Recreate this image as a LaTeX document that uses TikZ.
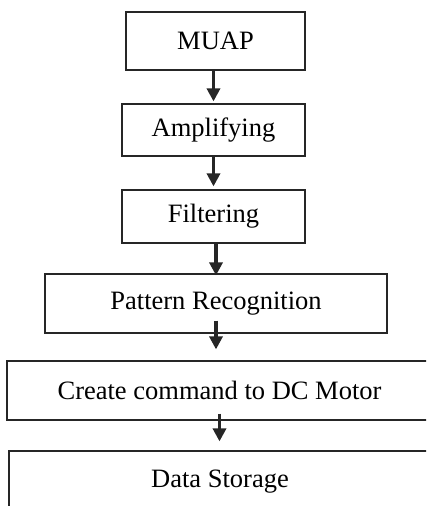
\documentclass[tikz,border=0pt]{standalone}
\usepackage{fontspec}
\setmainfont{Liberation Serif}
\usetikzlibrary{arrows.meta}

\begin{document}
\begin{tikzpicture}[x=1pt,y=-1pt,
  blk/.style={draw=black!85,line width=1.2pt,inner sep=0pt,font=\fontsize{26.5}{30}\selectfont},
  flow/.style={draw=black!85,line width=3.5pt,-{Triangle[width=13pt,length=13pt]}}]
   \useasboundingbox (0,0) rectangle (426,506);
   \clip (0,0) rectangle (426,506);
   \node[blk,minimum width=179pt,minimum height=58pt] (muap) at (215.5,41) {MUAP};
   \node[blk,minimum width=183pt,minimum height=52pt] (amp) at (213.5,130) {Amplifying};
   \node[blk,minimum width=183pt,minimum height=53pt] (filt) at (213.5,216.5) {Filtering};
   \node[blk,minimum width=342pt,minimum height=59pt] (pat) at (216,303.5) {Pattern Recognition};
   \node[blk,minimum width=425pt,minimum height=59pt] (cmd) at (219.5,390.5) {Create command to DC Motor};
   \node[blk,minimum width=422pt,minimum height=62pt] (store) at (220,482) {Data Storage};

   \draw[flow,shorten >=2pt] (amp.north |- muap.south) -- (amp.north);
   \draw[flow,shorten >=3pt] (amp.south) -- (amp.south |- filt.north);
   \draw[flow,shorten >=-2pt] (pat.north |- filt.south) -- (pat.north);
   \draw[flow,shorten <=-13pt,shorten >=11pt] (pat.south) -- (pat.south |- cmd.north);
   \draw[flow,shorten <=-7pt,shorten >=9pt] (cmd.south) -- (cmd.south |- store.north);
 \end{tikzpicture}
\end{document}
